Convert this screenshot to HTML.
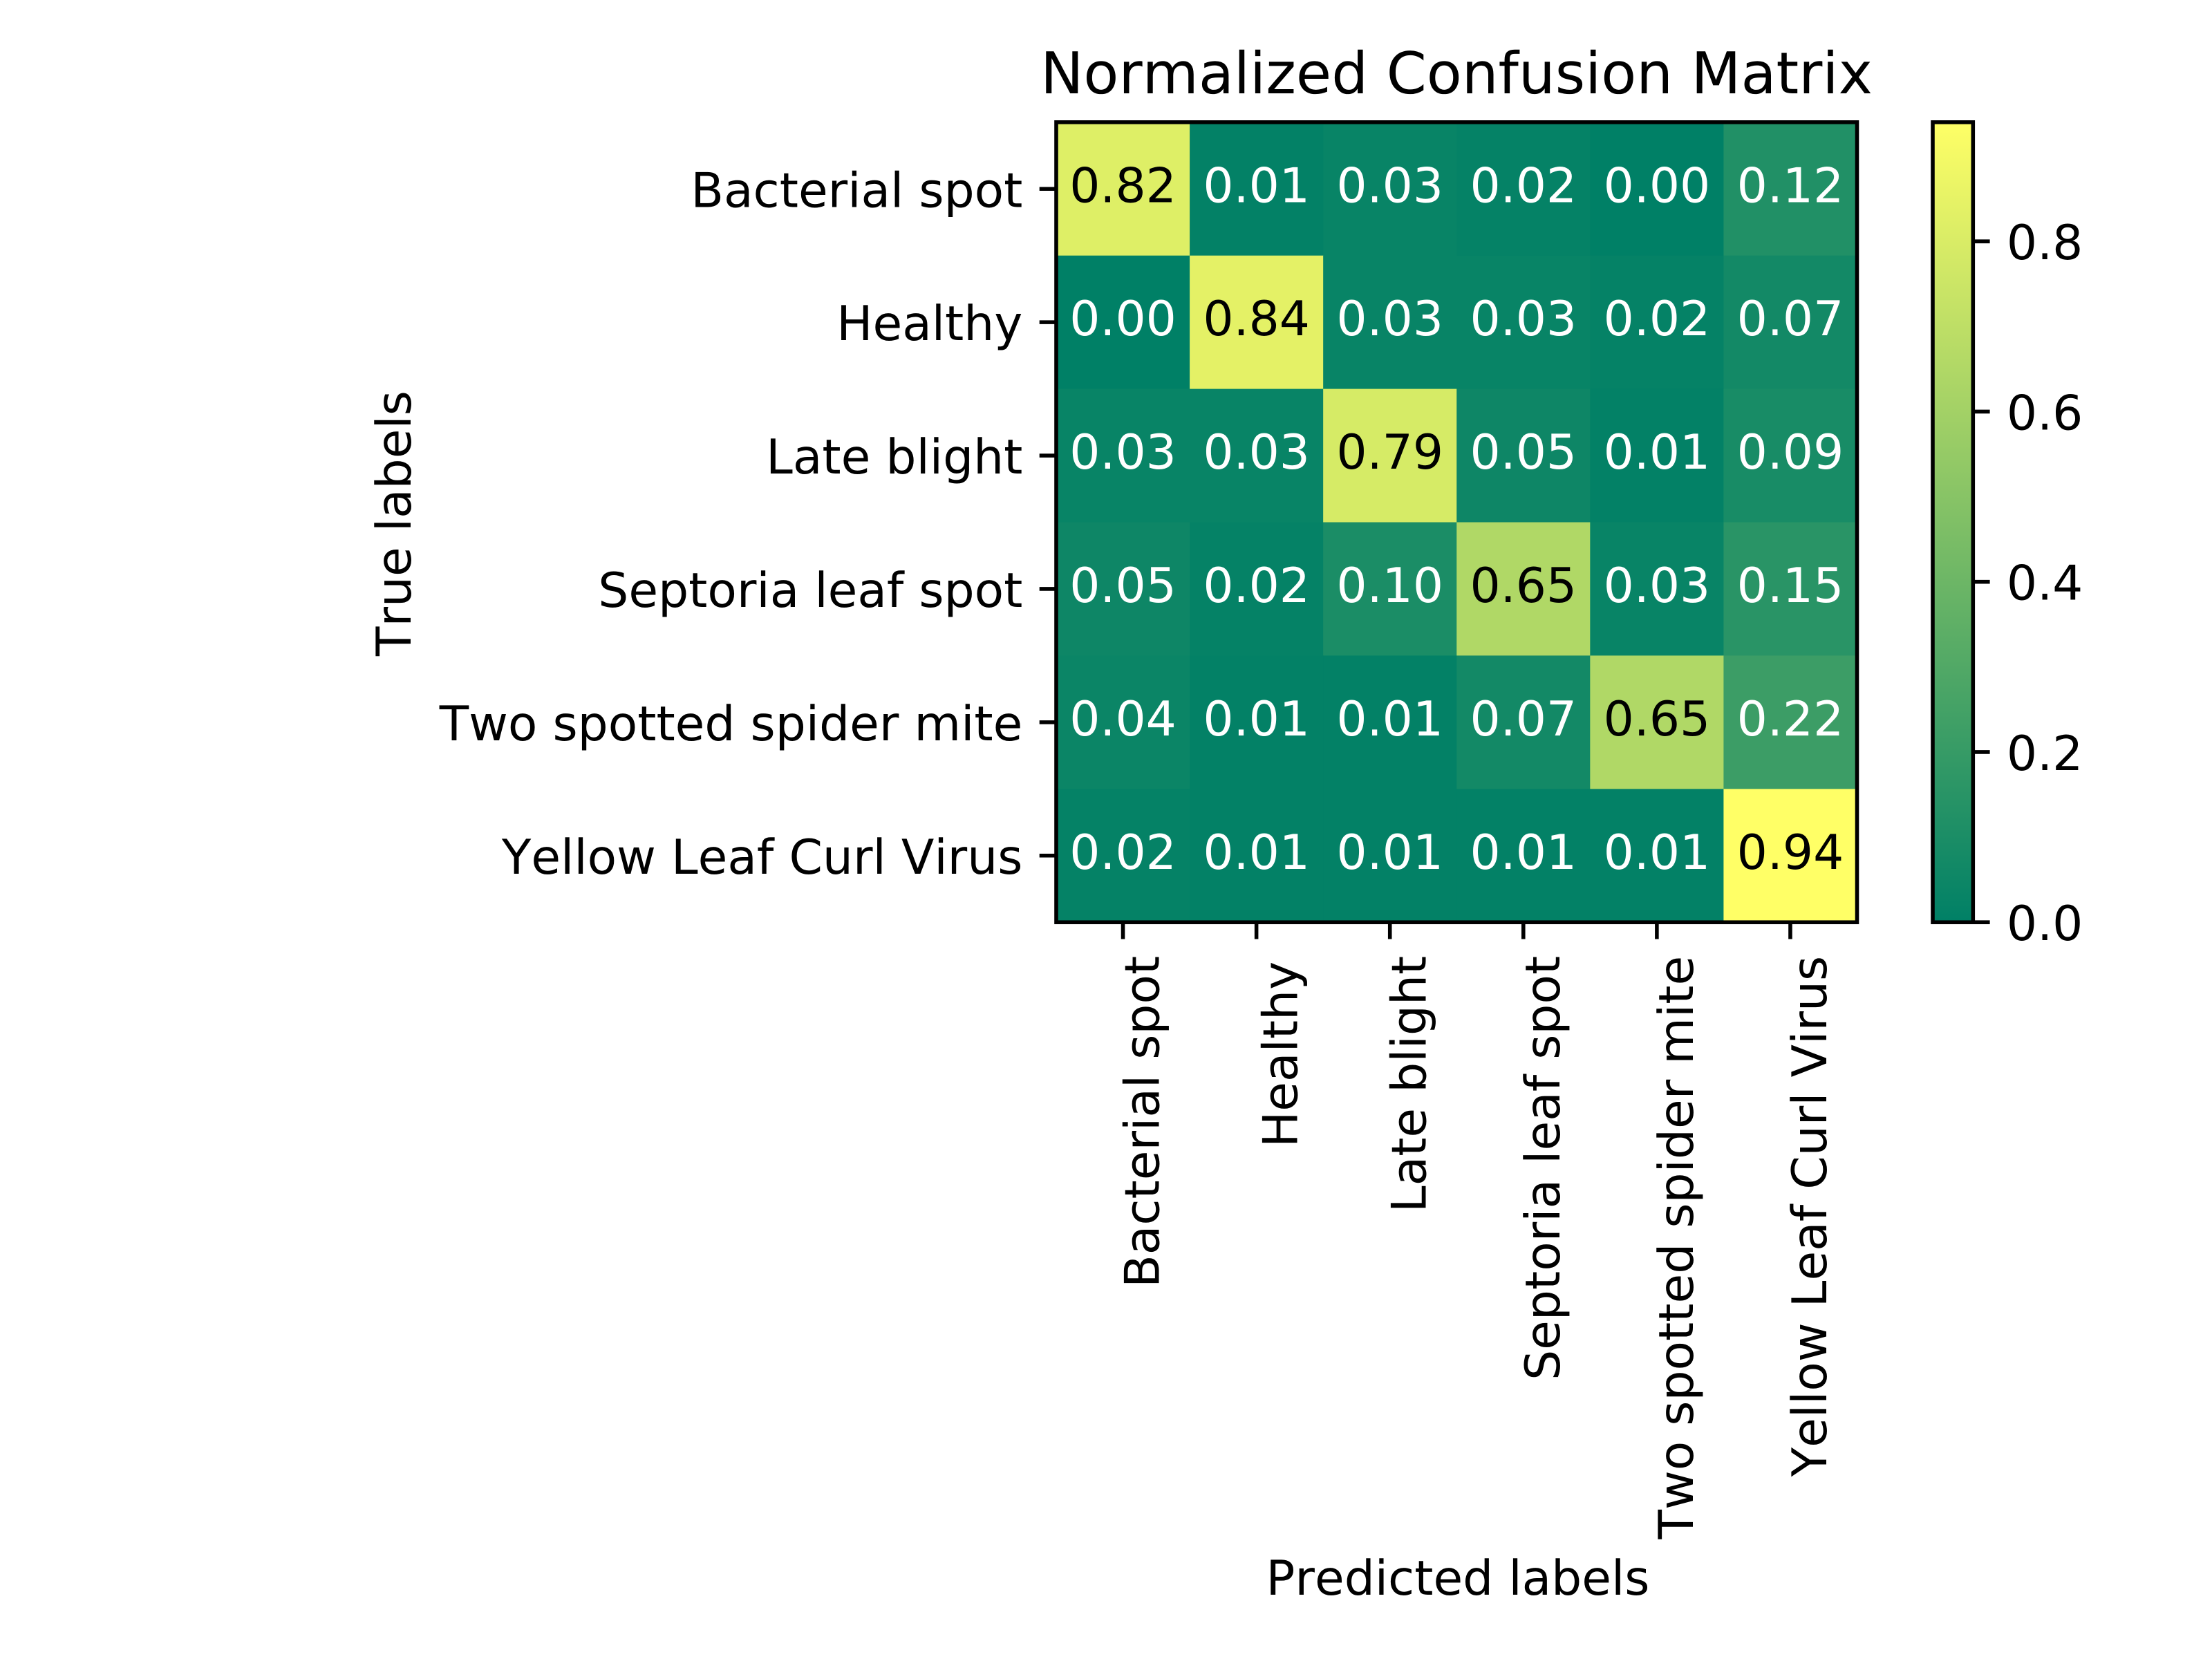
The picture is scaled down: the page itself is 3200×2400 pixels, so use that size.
<!DOCTYPE html>
<html lang="en">
<head>
<meta charset="utf-8">
<title>Normalized Confusion Matrix</title>
<style>
html,body{margin:0;padding:0;background:#fff;}
svg{display:block;}
text{font-family:"DejaVu Sans","Liberation Sans",sans-serif;fill:#000;text-rendering:geometricPrecision;font-kerning:none;}
</style>
</head>
<body>
<svg id="chart" xmlns="http://www.w3.org/2000/svg" width="3200" height="2400" viewBox="0 0 3200 2400">
  <rect width="3200" height="2400" fill="#ffffff"/>
  <defs>
    <linearGradient id="cbar-gradient" x1="0" y1="1" x2="0" y2="0">
      <stop offset="0" stop-color="rgb(0,128,102)"/>
      <stop offset="1" stop-color="rgb(255,255,102)"/>
    </linearGradient>
  </defs>
  <text x="2107" y="135" font-size="83.33" text-anchor="middle">Normalized Confusion Matrix</text>
  <text transform="translate(594,757) rotate(-90)" font-size="69.44" text-anchor="middle">True labels</text>
  <text x="2109" y="2307" font-size="69.44" text-anchor="middle">Predicted labels</text>
  <g id="cells"></g>
  <g id="cell-values"></g>
  <g id="x-axis"></g>
  <g id="y-axis"></g>
  <rect x="1528" y="176.8" width="1158.5" height="1157.4" fill="none" stroke="#000" stroke-width="5.56"/>
  <rect id="cbar-fill" x="2796" y="176.8" width="58.3" height="1157.4" fill="url(#cbar-gradient)"/>
  <g id="cbar-axis"></g>
  <rect x="2796" y="176.8" width="58.3" height="1157.4" fill="none" stroke="#000" stroke-width="5.56"/>
</svg>
<script>
const predictedLabels = ["Bacterial spot", "Healthy", "Late blight", "Septoria leaf spot", "Two spotted spider mite", "Yellow Leaf Curl Virus"];
const trueLabels = ["Bacterial spot", "Healthy", "Late blight", "Septoria leaf spot", "Two spotted spider mite", "Yellow Leaf Curl Virus"];
const rowBacterialSpot = [0.82, 0.01, 0.03, 0.02, 0.00, 0.12];
const rowHealthy = [0.00, 0.84, 0.03, 0.03, 0.02, 0.07];
const rowLateBlight = [0.03, 0.03, 0.79, 0.05, 0.01, 0.09];
const rowSeptoria = [0.05, 0.02, 0.10, 0.65, 0.03, 0.15];
const rowSpiderMite = [0.04, 0.01, 0.01, 0.07, 0.65, 0.22];
const rowLeafCurl = [0.02, 0.01, 0.01, 0.01, 0.01, 0.94];
const matrix = [rowBacterialSpot, rowHealthy, rowLateBlight, rowSeptoria, rowSpiderMite, rowLeafCurl];
const colorbarTicks = [0.0, 0.2, 0.4, 0.6, 0.8];

const SVG_NS = "http://www.w3.org/2000/svg";
const plot = { left: 1528, right: 2686.5, top: 176.8, bottom: 1334.2 };
const bar = { left: 2796, right: 2854.3, top: 176.8, bottom: 1334.2 };
const TICK = 24.3;
const PAD = 24.3;
const FONT = 69.44;

const nCols = predictedLabels.length;
const nRows = trueLabels.length;
const flat = matrix.reduce(function (a, r) { return a.concat(r); }, []);
const vMax = Math.max.apply(null, flat);
const vMin = Math.min.apply(null, flat);

function colX(c) { return plot.left + c * (plot.right - plot.left) / nCols; }
function rowY(r) { return plot.top + r * (plot.bottom - plot.top) / nRows; }
function colCenter(c) { return colX(c + 0.5); }
function rowCenter(r) { return rowY(r + 0.5); }
function barY(v) { return bar.bottom - (v - vMin) / (vMax - vMin) * (bar.bottom - bar.top); }
function summer(v) {
  const t = (v - vMin) / (vMax - vMin);
  return "rgb(" + Math.round(255 * t) + "," + Math.round(127.5 + 127.5 * t) + ",102)";
}
function make(tag, attrs, parent) {
  const el = document.createElementNS(SVG_NS, tag);
  Object.keys(attrs).forEach(function (k) { el.setAttribute(k, attrs[k]); });
  parent.appendChild(el);
  return el;
}
function slug(s) { return s.toLowerCase().replace(/\s+/g, "-"); }

const cellsG = document.getElementById("cells");
const valuesG = document.getElementById("cell-values");
const xG = document.getElementById("x-axis");
const yG = document.getElementById("y-axis");
const cbG = document.getElementById("cbar-axis");

matrix.forEach(function (row, r) {
  row.forEach(function (v, c) {
    const cell = make("rect", {
      x: colX(c), y: rowY(r),
      width: colX(c + 1) - colX(c) + 0.4,
      height: rowY(r + 1) - rowY(r) + 0.4,
      fill: summer(v)
    }, cellsG);
    
    
    const label = make("text", {
      x: colCenter(c), y: rowCenter(r) + 19,
      "font-size": FONT, "text-anchor": "middle"
    }, valuesG);
    label.style.fill = v > vMax / 2 ? "#000000" : "#ffffff";
    label.textContent = v.toFixed(2);
    
    
  });
});

predictedLabels.forEach(function (name, c) {
  const x = colCenter(c);
  const tick = make("line", { x1: x, x2: x, y1: plot.bottom, y2: plot.bottom + TICK, stroke: "#000", "stroke-width": 5.56 }, xG);
  
  
  const tall = name === "Healthy";
  const baseline = x + (tall ? 59 : 52);
  const start = plot.bottom + TICK + PAD + (tall ? 8 : 0);
  const text = make("text", {
    transform: "translate(" + baseline + "," + start + ") rotate(-90)",
    "font-size": FONT, "text-anchor": "end"
  }, xG);
  text.textContent = name;
  
  
});

trueLabels.forEach(function (name, r) {
  const y = rowCenter(r);
  const tick = make("line", { x1: plot.left, x2: plot.left - TICK, y1: y, y2: y, stroke: "#000", "stroke-width": 5.56 }, yG);
  
  
  const text = make("text", {
    x: plot.left - TICK - PAD, y: y + 26,
    "font-size": FONT, "text-anchor": "end"
  }, yG);
  text.textContent = name;
  
  
});

colorbarTicks.forEach(function (v) {
  const y = barY(v);
  const tick = make("line", { x1: bar.right, x2: bar.right + TICK, y1: y, y2: y, stroke: "#000", "stroke-width": 5.56 }, cbG);
  
  
  const text = make("text", {
    x: bar.right + TICK + PAD, y: y + 26,
    "font-size": FONT
  }, cbG);
  text.textContent = v.toFixed(1);
  
  
});
</script>
</body>
</html>
